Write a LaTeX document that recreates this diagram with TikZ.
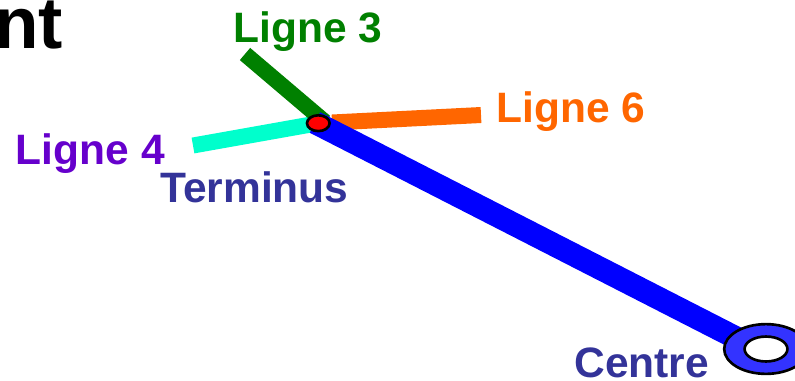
\documentclass[tikz,border=0pt]{standalone}
\usepackage{fontspec}
\setmainfont{Liberation Sans}
\usetikzlibrary{shapes.geometric}
\definecolor{ligne3}{HTML}{008000}
\definecolor{ligne4}{HTML}{00FFCC}
\definecolor{ligne6}{HTML}{FF6600}
\definecolor{violet4}{HTML}{6600CC}
\definecolor{bleutexte}{HTML}{333399}
\definecolor{bleuanneau}{HTML}{3333FF}
\tikzstyle{label} = [inner sep=0pt, anchor=base west, font=\fontsize{24.2}{28}\selectfont\bfseries]
\tikzstyle{ligne} = [line width=9.1pt]
\tikzstyle{station} = [ellipse, draw=black, line width=1.5pt, inner sep=0pt]

\begin{document}
\begin{tikzpicture}[x=0.02cm, y=-0.02cm]
            \useasboundingbox (0,0) rectangle (795,380);
            % Stations
            \coordinate (terminus) at (318.3,123.2);
            \coordinate (centre) at (766,349);
            \coordinate (fin3) at (245,54);
            \coordinate (debut3) at (325,122);
            \coordinate (fin4) at (193,145.5);
            \coordinate (fin6) at (481,115);
            \coordinate (debut6) at (332,122.5);
            \coordinate (debutbleu) at (315,122.5);
            \coordinate (finbleu) at (750,345);
            % Lines
            \draw[ligne, ligne4] (fin4) -- (terminus);
            \draw[ligne, ligne6] (debut6) -- (fin6);
            \draw[ligne, ligne3] (fin3) -- (debut3);
            \draw[line width=13.1pt, blue] (debutbleu) -- (finbleu);
            % Ellipses
            \node[station, fill=red, minimum width=12.9pt, minimum height=9pt] (term) at (terminus) {};
            \node[station, fill=bleuanneau, minimum width=47.6pt, minimum height=28.3pt] (cent) at (centre) {};
            \node[station, fill=white, minimum width=24.4pt, minimum height=14.2pt] (centin) at (centre) {};
            % Labels
            \node[label, text=black, font=\fontsize{41.5}{48}\selectfont\bfseries] (titre) at (-6,48) {nt};
            \node[label, text=ligne3] (l3) at (233,42) {Ligne 3};
            \node[label, text=ligne6] (l6) at (496,122) {Ligne 6};
            \node[label, text=violet4] (l4) at (15.5,164) {Ligne 4};
            \node[label, text=bleutexte] (lt) at (160,202) {Terminus};
            \node[label, text=bleutexte] (lc) at (574,377) {Centre};
        \end{tikzpicture}
\end{document}
